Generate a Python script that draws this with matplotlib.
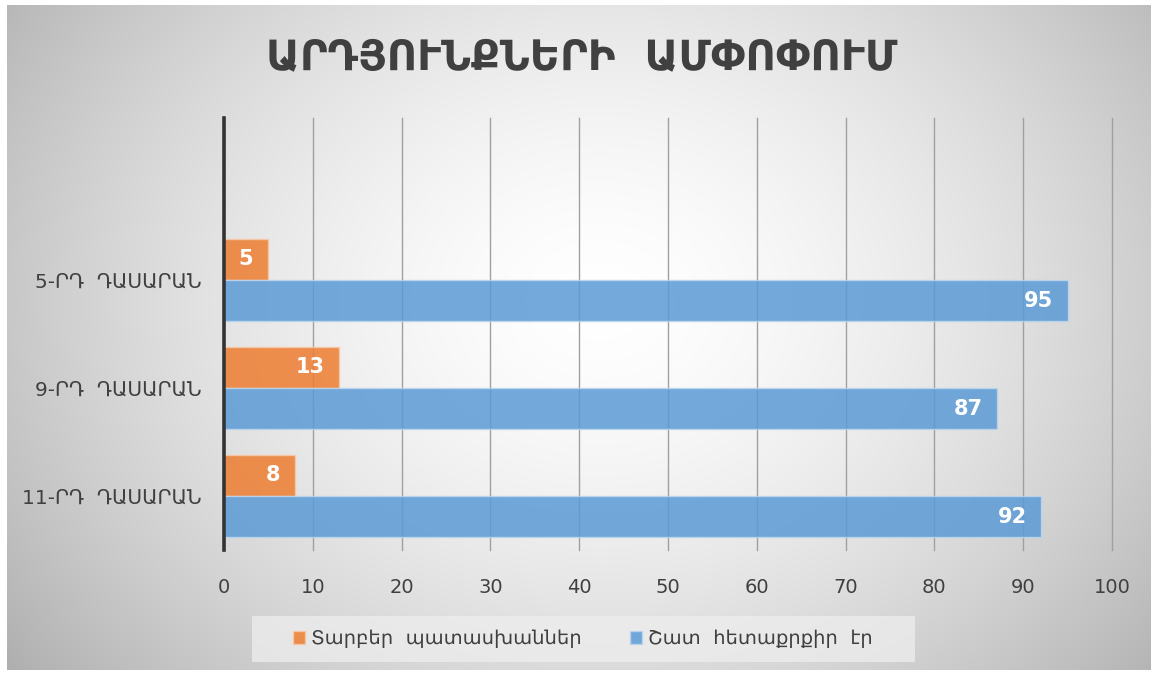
import numpy as np
import matplotlib
matplotlib.use('Agg')
import matplotlib.pyplot as plt
from matplotlib.patches import Rectangle

plt.rcParams['font.family'] = ['DejaVu Sans']

# datan
dasaran = ['11-ՐԴ  ԴԱՍԱՐԱՆ', '9-ՐԴ  ԴԱՍԱՐԱՆ', '5-ՐԴ  ԴԱՍԱՐԱՆ']
tarber = [8, 13, 5]
shat = [92, 87, 95]
sernamer = ['Տարբեր  պատասխաններ', 'Շատ  հետաքրքիր  էր']
xticks = [0, 10, 20, 30, 40, 50, 60, 70, 80, 90, 100]
vernagir = 'ԱՐԴՅՈՒՆՔՆԵՐԻ  ԱՄՓՈՓՈՒՄ'

W, H = 1158, 675
fig = plt.figure(figsize=(W / 100, H / 100), dpi=100)
fig.patch.set_facecolor('white')

# radial gradient background
bg = fig.add_axes([7 / W, 5 / H, 1 - 14 / W, 1 - 10 / H])
yy, xx = np.mgrid[0:H, 0:W]
r = np.sqrt(((xx - 600) / 640.0) ** 2 + ((yy - 300) / 520.0) ** 2)
val = 1.0 - 0.24 * np.clip(r, 0, 1.25) ** 1.6
bg.imshow(np.dstack([val, val, val]), aspect='auto', extent=[0, 1, 0, 1],
          vmin=0, vmax=1, interpolation='bilinear')
bg.set_axis_off()

ax = fig.add_axes([224 / W, 1 - 550 / H, (1112 - 224) / W, (550 - 118) / H])
ax.patch.set_alpha(0)

y = np.arange(len(dasaran))
h = 0.38
b1 = ax.barh(y + h / 2, tarber, height=h, color='#ED7D31', alpha=0.85,
             edgecolor='#f8c9a8', linewidth=1, label=sernamer[0], zorder=3)
b2 = ax.barh(y - h / 2, shat, height=h, color='#5B9BD5', alpha=0.85,
             edgecolor='#bcd6ef', linewidth=1, label=sernamer[1], zorder=3)

for i in range(len(dasaran)):
    ax.text(tarber[i] - 1.7, y[i] + h / 2, str(tarber[i]), ha='right', va='center',
            color='white', fontsize=15, fontweight='bold', zorder=4)
    ax.text(shat[i] - 1.6, y[i] - h / 2, str(shat[i]), ha='right', va='center',
            color='white', fontsize=15, fontweight='bold', zorder=4)

ax.set_xlim(0, 100)
ax.set_ylim(-0.5, 3.5)
ax.set_xticks(xticks)
ax.set_yticks(y)
ax.set_yticklabels(dasaran)
ax.tick_params(axis='x', length=0, pad=20, labelsize=14, labelcolor='#404040')
ax.tick_params(axis='y', length=0, pad=16, labelsize=14.5, labelcolor='#404040')
ax.grid(axis='x', color='#a0a0a0', linewidth=1, zorder=1)
ax.set_axisbelow(True)
for gl in ax.get_xgridlines():
    gl.set_clip_on(False)
for s in ['top', 'right', 'bottom']:
    ax.spines[s].set_visible(False)
ax.spines['left'].set_color('#333333')
ax.spines['left'].set_linewidth(2.6)
ax.spines['left'].set_zorder(5)

fig.text(582 / W, 1 - 57 / H, vernagir, ha='center', va='center',
         fontsize=30, fontweight='bold', color='#404040')

# legend box
fig.patches.append(Rectangle((252 / W, 1 - 662 / H), (915 - 252) / W, 46 / H,
                             transform=fig.transFigure, facecolor='#eeeeee',
                             alpha=0.75, edgecolor='none', zorder=0))
leg = fig.legend(handles=[b1, b2], loc='center', bbox_to_anchor=(583 / W, 1 - 639 / H),
                 ncol=2, frameon=False, fontsize=14, handlelength=0.6,
                 handleheight=0.6, handletextpad=0.3, columnspacing=2.5)
for t in leg.get_texts():
    t.set_color('#404040')

fig.savefig('out.png', dpi=100)
